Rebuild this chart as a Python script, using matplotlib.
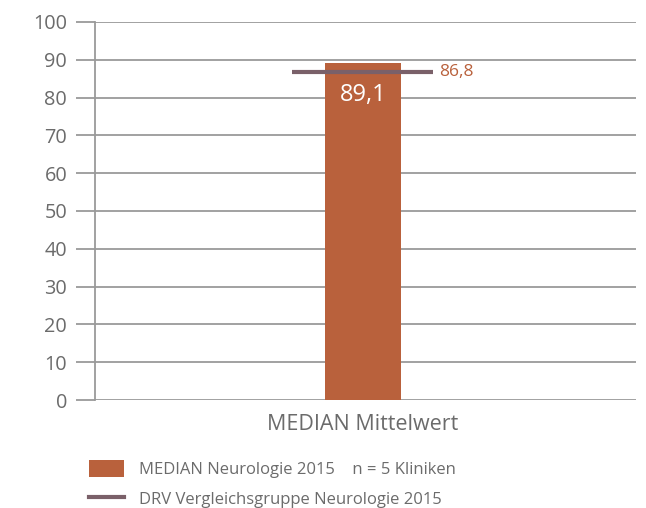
import matplotlib
matplotlib.use("Agg")
import matplotlib.pyplot as plt
from matplotlib.patches import Patch
from matplotlib.lines import Line2D

plt.rcParams['font.family'] = ['Open Sans', 'DejaVu Sans']

categories = ["MEDIAN Mittelwert"]
median_values = [89.1]
drv_values = [86.8]
yticks = [0, 10, 20, 30, 40, 50, 60, 70, 80, 90, 100]
legend_labels = ["MEDIAN Neurologie 2015    n = 5 Kliniken", "DRV Vergleichsgruppe Neurologie 2015"]

bar_color = "#b9613c"
line_color = "#7a6069"
grid_color = "#9a9a9a"
text_color = "#6b6b6b"

W, H = 646, 508
fig = plt.figure(figsize=(W / 100, H / 100), dpi=100)
ax = fig.add_axes([95 / W, 108 / H, (636 - 95) / W, (400 - 22) / H])

x = list(range(len(categories)))
bar_w = 0.14
ax.bar(x, median_values, width=bar_w, color=bar_color, zorder=3)
for xi, v in zip(x, median_values):
    ax.text(xi, v - 8.5, f"{v:.1f}".replace(".", ","), ha="center", va="center",
            color="white", fontsize=17, zorder=5)
half = 0.13
for xi, v in zip(x, drv_values):
    ax.hlines(v, xi - half, xi + half, color=line_color, linewidth=3, zorder=4)
    ax.text(xi + half + 0.012, v, f"{v:.1f}".replace(".", ","), ha="left", va="center",
            color=bar_color, fontsize=12.5)

ax.set_xlim(-0.495, 0.505)
ax.set_ylim(0, 100)
ax.set_yticks(yticks)
ax.set_xticks(x)
ax.set_xticklabels(categories)
ax.yaxis.grid(True, color=grid_color, linewidth=1.3, zorder=0)
ax.set_axisbelow(True)
for s in ["top", "right", "bottom"]:
    ax.spines[s].set_visible(False)
ax.spines["left"].set_color(grid_color)
ax.spines["left"].set_linewidth(1.3)
ax.tick_params(axis="y", length=14, width=1.3, color=grid_color, pad=6,
               labelsize=14.3, labelcolor=text_color)
ax.tick_params(axis="x", length=0, pad=10, labelsize=15.5, labelcolor=text_color)

handles = [Patch(facecolor=bar_color, edgecolor="none"),
           Line2D([0], [0], color=line_color, linewidth=3)]
leg = fig.legend(handles, legend_labels, loc="upper left",
                 bbox_to_anchor=(74 / W, 1 - 445 / H), frameon=False,
                 fontsize=12, labelcolor=text_color, handlelength=2.1,
                 handleheight=1.15, handletextpad=0.9, labelspacing=0.75)

fig.savefig("out.png", dpi=100)
